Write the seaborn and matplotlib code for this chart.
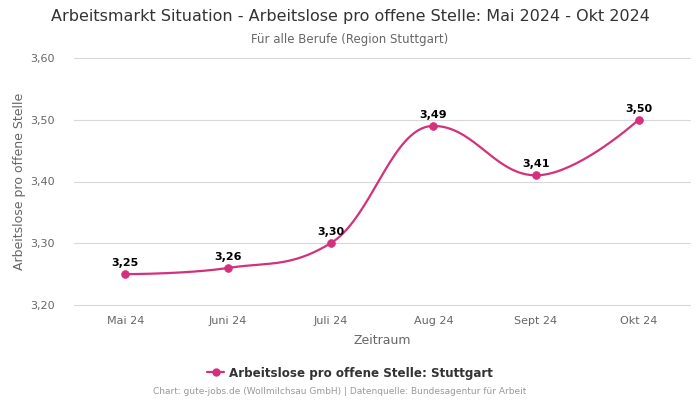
import numpy as np
import matplotlib
matplotlib.use("Agg")
import matplotlib.pyplot as plt
import seaborn as sns
import pandas as pd
from matplotlib.lines import Line2D

categories = ["Mai 24", "Juni 24", "Juli 24", "Aug 24", "Sept 24", "Okt 24"]
values = [3.25, 3.26, 3.30, 3.49, 3.41, 3.50]
series_name = "Arbeitslose pro offene Stelle: Stuttgart"
yticks = [3.20, 3.30, 3.40, 3.50, 3.60]

color = "#d4307c"

sns.set_theme(style="white")
plt.rcParams["font.family"] = ["DejaVu Sans"]

df = pd.DataFrame({"Zeitraum": categories, "Wert": values})
df["x"] = np.arange(len(df))


def spline_path(xs, ys, smoothing=1.5, steps=40):
    n = len(xs)
    left = [None] * n
    right = [None] * n
    for i in range(n):
        if i == 0 or i == n - 1:
            left[i] = (xs[i], ys[i])
            right[i] = (xs[i], ys[i])
            continue
        d = smoothing + 1
        lx = (smoothing * xs[i] + xs[i - 1]) / d
        ly = (smoothing * ys[i] + ys[i - 1]) / d
        rx = (smoothing * xs[i] + xs[i + 1]) / d
        ry = (smoothing * ys[i] + ys[i + 1]) / d
        if rx != lx:
            corr = (ry - ly) * (rx - xs[i]) / (rx - lx) + ys[i] - ry
            ly += corr
            ry += corr
        if ly > ys[i - 1] and ly > ys[i]:
            ly = max(ys[i - 1], ys[i]); ry = 2 * ys[i] - ly
        elif ly < ys[i - 1] and ly < ys[i]:
            ly = min(ys[i - 1], ys[i]); ry = 2 * ys[i] - ly
        if ry > ys[i + 1] and ry > ys[i]:
            ry = max(ys[i + 1], ys[i]); ly = 2 * ys[i] - ry
        elif ry < ys[i + 1] and ry < ys[i]:
            ry = min(ys[i + 1], ys[i]); ly = 2 * ys[i] - ry
        left[i] = (lx, ly)
        right[i] = (rx, ry)
    px, py = [], []
    t = np.linspace(0, 1, steps)
    for i in range(n - 1):
        p0 = np.array([xs[i], ys[i]])
        p1 = np.array(right[i])
        p2 = np.array(left[i + 1])
        p3 = np.array([xs[i + 1], ys[i + 1]])
        b = ((1 - t) ** 3)[:, None] * p0 + (3 * (1 - t) ** 2 * t)[:, None] * p1 \
            + (3 * (1 - t) * t ** 2)[:, None] * p2 + (t ** 3)[:, None] * p3
        px.extend(b[:, 0]); py.extend(b[:, 1])
    return np.array(px), np.array(py)


fig = plt.figure(figsize=(7, 4), dpi=100)
ax = fig.add_axes([74 / 700, 95 / 400, 616 / 700, 247 / 400])

for t in yticks:
    ax.axhline(t, color="#d8d8d8", linewidth=0.8, zorder=0, clip_on=False)

sx, sy = spline_path(df["x"].values.astype(float), df["Wert"].values)
curve = pd.DataFrame({"x": sx, "y": sy})
sns.lineplot(data=curve, x="x", y="y", ax=ax, color=color, linewidth=1.6,
             sort=False, estimator=None)
sns.scatterplot(data=df, x="x", y="Wert", ax=ax, color=color, s=32,
                edgecolor=color, zorder=5)

for xi, v in zip(df["x"], df["Wert"]):
    ax.annotate(f"{v:.2f}".replace(".", ","), (xi, v), xytext=(0, 4.5),
                textcoords="offset points", ha="center", va="bottom",
                fontsize=8, fontweight="bold", color="black")

ax.set_xlim(-0.5, len(categories) - 0.5)
ax.set_ylim(3.20, 3.60)
ax.set_yticks(yticks)
ax.set_yticklabels([f"{t:.2f}".replace(".", ",") for t in yticks])
ax.set_xticks(df["x"])
ax.set_xticklabels(categories)
ax.tick_params(axis="both", labelsize=8, colors="#666666", length=0)
ax.tick_params(axis="x", pad=8)
ax.tick_params(axis="y", pad=14)
ax.grid(False)
for s in ax.spines.values():
    s.set_visible(False)
ax.set_xlabel("Zeitraum", fontsize=9, color="#666666", labelpad=6)
ax.set_ylabel("Arbeitslose pro offene Stelle", fontsize=9, color="#666666", labelpad=3)

fig.text(0.5, 1 - 17 / 400, "Arbeitsmarkt Situation - Arbeitslose pro offene Stelle: Mai 2024 - Okt 2024",
         ha="center", va="center", fontsize=11.5, color="#333333")
fig.text(0.5, 1 - 39 / 400, "Für alle Berufe (Region Stuttgart)", ha="center", va="center",
         fontsize=8.5, color="#666666")

handle = Line2D([0], [0], color=color, marker="o", markersize=5, linewidth=1.6)
fig.legend([handle], [series_name], loc="center", bbox_to_anchor=(0.5, 1 - 373 / 400),
           frameon=False, prop={"size": 8.6, "weight": "bold"}, labelcolor="#333333",
           handlelength=1.4, handletextpad=0.4)

fig.text(340 / 700, 1 - 392 / 400,
         "Chart: gute-jobs.de (Wollmilchsau GmbH) | Datenquelle: Bundesagentur für Arbeit",
         ha="center", va="center", fontsize=6.5, color="#999999")

fig.savefig("out.png", dpi=100)
